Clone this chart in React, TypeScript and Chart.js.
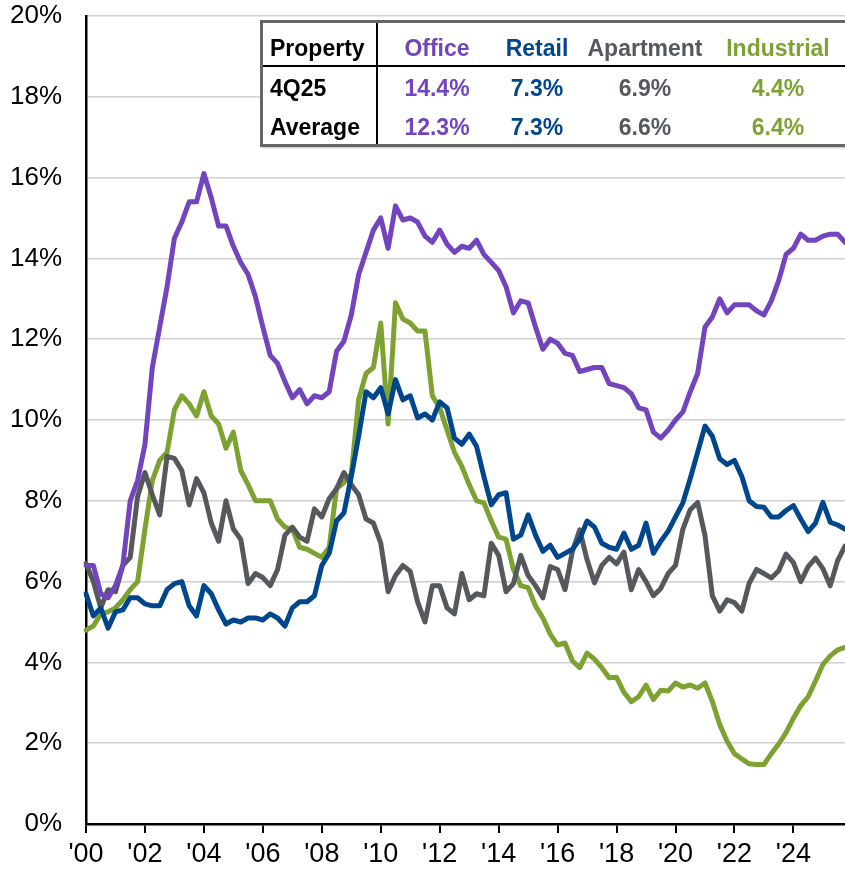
import React, { useEffect, useRef } from "react";
import { Chart, registerables } from "chart.js";

Chart.register(...registerables);

// ---- Data (quarterly vacancy rates, 1Q00 – 4Q25) ----
const years: number[] = [];
for (let y = 2000; y <= 2025; y++) years.push(y);
const categories: string[] = [];
years.forEach((y) => {
  for (let q = 1; q <= 4; q++) categories.push(`${q}Q${String(y).slice(2)}`);
});

const tickLabels = ["'00", "'02", "'04", "'06", "'08", "'10", "'12", "'14", "'16", "'18", "'20", "'22", "'24"];

const office = [
  6.4, 6.4, 5.7, 5.6, 5.9, 6.4, 8.0, 8.5,
  9.4, 11.3, 12.3, 13.3, 14.5, 14.9, 15.4, 15.4,
  16.1, 15.5, 14.8, 14.8, 14.3, 13.9, 13.6, 13.05,
  12.3, 11.6, 11.4, 10.95, 10.55, 10.75, 10.4, 10.6,
  10.55, 10.7, 11.7, 11.95, 12.6, 13.6, 14.15, 14.7,
  15.0, 14.25, 15.3, 14.95, 15.0, 14.9, 14.55, 14.4,
  14.7, 14.35, 14.15, 14.3, 14.25, 14.45, 14.1, 13.9,
  13.7, 13.3, 12.65, 12.95, 12.9, 12.3, 11.75, 12.0,
  11.9, 11.65, 11.6, 11.2, 11.25, 11.3, 11.3, 10.9,
  10.85, 10.8, 10.65, 10.3, 10.25, 9.7, 9.55, 9.75,
  10.0, 10.2, 10.7, 11.15, 12.3, 12.55, 13.0, 12.65,
  12.85, 12.85, 12.85, 12.7, 12.6, 12.95, 13.45, 14.1,
  14.25, 14.6, 14.45, 14.45, 14.55, 14.6, 14.6, 14.4,
];

const retail = [
  5.7, 5.15, 5.35, 4.85, 5.25, 5.3, 5.6, 5.6,
  5.45, 5.4, 5.4, 5.8, 5.95, 6.0, 5.4, 5.15,
  5.9, 5.7, 5.3, 4.95, 5.05, 5.0, 5.1, 5.1,
  5.05, 5.2, 5.1, 4.9, 5.35, 5.5, 5.5, 5.65,
  6.4, 6.7, 7.5, 7.7, 8.6, 9.6, 10.7, 10.55,
  10.8, 10.15, 11.0, 10.5, 10.6, 10.05, 10.15, 10.0,
  10.45, 10.3, 9.55, 9.4, 9.65, 9.35, 8.6, 7.9,
  8.15, 8.2, 7.05, 7.15, 7.65, 7.15, 6.75, 6.9,
  6.6, 6.7, 6.8, 7.05, 7.5, 7.35, 6.95, 6.85,
  6.8, 7.2, 6.8, 6.9, 7.45, 6.7, 7.0, 7.25,
  7.6, 7.95, 8.55, 9.2, 9.85, 9.6, 9.04, 8.9,
  9.0, 8.6, 8.0, 7.86, 7.84, 7.6, 7.6, 7.76,
  7.88, 7.55, 7.24, 7.45, 7.96, 7.47, 7.4, 7.3,
];

const apartment = [
  6.45, 6.0, 5.35, 5.8, 5.75, 6.4, 6.6, 8.1,
  8.7, 8.15, 7.65, 9.1, 9.05, 8.75, 7.9, 8.55,
  8.2, 7.45, 7.0, 8.0, 7.3, 7.05, 5.95, 6.2,
  6.1, 5.9, 6.3, 7.15, 7.35, 7.1, 7.0, 7.8,
  7.6, 8.05, 8.3, 8.7, 8.4, 8.15, 7.55, 7.45,
  6.95, 5.75, 6.15, 6.4, 6.25, 5.5, 5.0, 5.9,
  5.9, 5.35, 5.2, 6.2, 5.55, 5.7, 5.65, 6.95,
  6.65, 5.75, 5.95, 6.65, 6.15, 5.9, 5.6, 6.37,
  6.3, 5.8, 6.74, 7.28, 6.54, 5.97, 6.4, 6.6,
  6.44, 6.73, 5.8, 6.3, 6.0, 5.65, 5.83, 6.2,
  6.4, 7.3, 7.78, 7.96, 7.14, 5.65, 5.27, 5.55,
  5.48, 5.27, 5.96, 6.3, 6.2, 6.09, 6.27, 6.68,
  6.47, 6.0, 6.37, 6.58, 6.32, 5.9, 6.52, 6.88,
];

const industrial = [
  4.8, 4.9, 5.2, 5.25, 5.35, 5.55, 5.8, 6.0,
  7.3, 8.5, 9.0, 9.2, 10.25, 10.6, 10.4, 10.1,
  10.7, 10.1, 9.9, 9.3, 9.7, 8.75, 8.4, 8.0,
  8.0, 8.0, 7.55, 7.35, 7.3, 6.85, 6.8, 6.7,
  6.6, 6.85, 8.3, 8.45, 8.65, 10.5, 11.15, 11.3,
  12.4, 9.9, 12.9, 12.5, 12.4, 12.2, 12.2, 10.6,
  10.3, 9.75, 9.2, 8.85, 8.4, 8.0, 7.95, 7.5,
  7.1, 7.05, 6.3, 5.9, 5.85, 5.4, 5.1, 4.7,
  4.43, 4.48, 4.04, 3.87, 4.23, 4.08, 3.87, 3.62,
  3.63, 3.26, 3.03, 3.15, 3.44, 3.08, 3.31, 3.29,
  3.49, 3.39, 3.44, 3.36, 3.49, 3.03, 2.46, 2.05,
  1.74, 1.61, 1.49, 1.47, 1.47, 1.74, 1.98, 2.26,
  2.62, 2.93, 3.15, 3.54, 3.95, 4.16, 4.31, 4.37,
];

// ---- Summary table ----
const seriesNames = ["Office", "Retail", "Apartment", "Industrial"];
const latestValues = ["14.4%", "7.3%", "6.9%", "4.4%"];
const averageValues = ["12.3%", "7.3%", "6.6%", "6.4%"];
const seriesColors = ["#7244BE", "#00468C", "#55595D", "#7EA232"];

const W = 845;
const H = 872;
const PLOT_TOP = 16;
const PLOT_BOTTOM = 824;
const SANS = "'Liberation Sans', Arial, Helvetica, sans-serif";
const NARROW = "'Liberation Sans Narrow', 'Arial Narrow', 'Liberation Sans', Arial, sans-serif";

export default function App() {
  const ref = useRef<HTMLCanvasElement | null>(null);

  useEffect(() => {
    if (!ref.current) return;
    const seriesData = [office, retail, apartment, industrial];
    const chart = new Chart(ref.current, {
      type: "line",
      data: {
        labels: categories,
        datasets: seriesNames.map((name, k) => ({
          label: name,
          data: seriesData[k],
          borderColor: seriesColors[k],
          backgroundColor: seriesColors[k],
          borderWidth: 5,
          pointRadius: 0,
          tension: 0,
          fill: false,
          borderJoinStyle: "round" as const,
          borderCapStyle: "round" as const,
        })),
      },
      options: {
        responsive: false,
        animation: false,
        layout: { padding: { top: PLOT_TOP, right: 0, left: 0, bottom: 0 } },
        plugins: { legend: { display: false }, tooltip: { enabled: false } },
        scales: {
          x: {
            type: "category",
            offset: false,
            grid: {
              drawOnChartArea: false,
              drawTicks: true,
              tickLength: 9,
              color: "#000",
              lineWidth: 2,
            },
            border: { display: true, color: "#000", width: 2.5 },
            ticks: {
              autoSkip: false,
              maxRotation: 0,
              minRotation: 0,
              padding: 5,
              color: "#000",
              font: { family: NARROW, size: 27 },
              callback: (_v: any, i: number) => (i % 8 === 0 ? tickLabels[i / 8] : null),
            },
            afterFit: (s: any) => {
              s.height = H - PLOT_BOTTOM;
              s.paddingLeft = 0;
              s.paddingRight = 0;
            },
          },
          y: {
            min: 0,
            max: 20,
            grid: { color: "#d0d0d0", lineWidth: 1.5, drawTicks: false },
            border: { display: true, color: "#000", width: 2.5 },
            ticks: {
              stepSize: 2,
              padding: 24,
              color: "#000",
              font: { family: SANS, size: 26 },
              callback: (v: any) => `${v}%`,
            },
            afterFit: (s: any) => {
              s.width = 86;
              s.paddingTop = 0;
              s.paddingBottom = 0;
            },
          },
        },
      },
    });
    return () => chart.destroy();
  }, []);

  const boxLeft = 260;
  const colCenters = [177, 277, 385, 518];
  const rowCenters = [25, 65, 104];
  const cell = (text: string, left: number, top: number, color: string, align: "left" | "center") => (
    <div
      key={`${text}-${left}-${top}`}
      style={{
        position: "absolute",
        left: align === "center" ? left - 80 : left,
        width: align === "center" ? 160 : 110,
        top: top - 14,
        height: 28,
        lineHeight: "28px",
        textAlign: align,
        color,
        fontFamily: SANS,
        fontWeight: 700,
        fontSize: 23,
        whiteSpace: "nowrap",
      }}
    >
      {text}
    </div>
  );

  return (
    <div style={{ position: "fixed", left: 0, top: 0, width: W, height: H, background: "#fff", overflow: "hidden" }}>
      <canvas ref={ref} width={W} height={H} style={{ display: "block" }} />
      <div
        style={{
          position: "absolute",
          left: boxLeft,
          top: 20,
          width: 640,
          height: 127,
          boxSizing: "border-box",
          border: "3px solid #666",
          background: "#fff",
          boxShadow: "1px 1px 2px rgba(0,0,0,0.25)",
        }}
      >
        <div style={{ position: "absolute", left: 0, right: 0, top: 42, height: 2, background: "#000" }} />
        <div style={{ position: "absolute", left: 113, width: 2, top: 0, bottom: 0, background: "#000" }} />
        {cell("Property", 7, rowCenters[0], "#000", "left")}
        {cell("4Q25", 7, rowCenters[1], "#000", "left")}
        {cell("Average", 7, rowCenters[2], "#000", "left")}
        {seriesNames.map((n, k) => cell(n, colCenters[k] - 3, rowCenters[0], seriesColors[k], "center"))}
        {latestValues.map((v, k) => cell(v, colCenters[k] - 3, rowCenters[1], seriesColors[k], "center"))}
        {averageValues.map((v, k) => cell(v, colCenters[k] - 3, rowCenters[2], seriesColors[k], "center"))}
      </div>
    </div>
  );
}
